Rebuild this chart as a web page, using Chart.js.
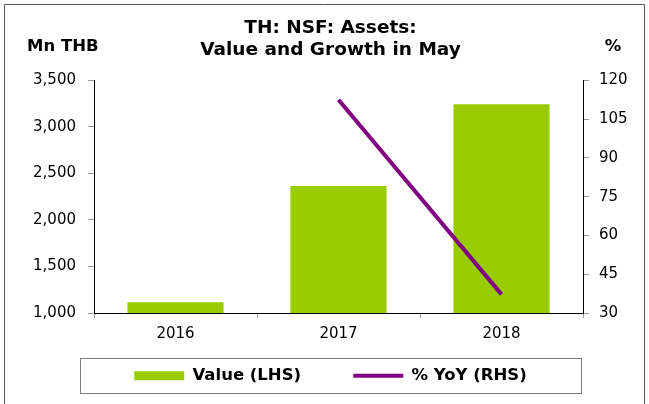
<!DOCTYPE html>
<html>
<head>
<meta charset="utf-8">
<script src="https://cdn.jsdelivr.net/npm/chart.js@4.4.0/dist/chart.umd.min.js"></script>
<style>
  html, body { margin: 0; padding: 0; background: #fff; }
  #wrap { width: 649px; height: 404px; position: relative; }
</style>
</head>
<body>
<div id="wrap"><canvas id="navChart" width="649" height="404"></canvas></div>
<script>
const years = ['2016', '2017', '2018'];
const assetValue = [1115, 2365, 3245];
const yoyGrowth = [null, 112.5, 37.2];
const leftTicks = [1000, 1500, 2000, 2500, 3000, 3500];
const rightTicks = [30, 45, 60, 75, 90, 105, 120];

const FONT = "'DejaVu Sans', sans-serif";
const PAD_L = 16, PAD_R = 4, PAD_B = 10;

// frame, axis unit labels and legend box
const extras = {
    id: 'extras',
    beforeDraw(chart) {
        const ctx = chart.ctx;
        ctx.save();
        ctx.fillStyle = '#fff';
        ctx.fillRect(0, 0, chart.width, chart.height);
        ctx.strokeStyle = '#555';
        ctx.lineWidth = 1;
        ctx.beginPath();
        ctx.moveTo(4.5, 404);
        ctx.lineTo(4.5, 4.5);
        ctx.lineTo(644.5, 4.5);
        ctx.lineTo(644.5, 404);
        ctx.stroke();
        ctx.restore();
    },
    afterDraw(chart) {
        const ctx = chart.ctx;
        ctx.save();
        ctx.font = 'bold 16.5px ' + FONT;
        ctx.fillStyle = '#000';
        ctx.textBaseline = 'middle';
        ctx.textAlign = 'left';
        ctx.fillText('Mn THB', 27, 47);
        ctx.textAlign = 'center';
        ctx.fillText('%', 613, 47);
        // legend frame
        ctx.strokeStyle = '#7f7f7f';
        ctx.lineWidth = 1;
        ctx.strokeRect(80.5, 358.5, 501, 35);
        ctx.restore();
    }
};

const ctx = document.getElementById('navChart').getContext('2d');
new Chart(ctx, {
    data: {
        labels: years,
        datasets: [
            {
                type: 'line',
                label: '% YoY (RHS)',
                data: yoyGrowth,
                yAxisID: 'y1',
                borderColor: '#800080',
                backgroundColor: '#800080',
                borderWidth: 4,
                pointRadius: 0,
                pointStyle: 'line',
                order: 0
            },
            {
                type: 'bar',
                // trailing spaces widen the gap before the next legend item
                label: 'Value (LHS)       ',
                data: assetValue,
                yAxisID: 'y',
                backgroundColor: '#99cc00',
                borderWidth: 0,
                pointStyle: 'rect',
                categoryPercentage: 1,
                barPercentage: 0.59,
                order: 1
            }
        ]
    },
    options: {
        responsive: false,
        animation: false,
        layout: { padding: { top: 8, left: PAD_L, right: PAD_R, bottom: PAD_B } },
        plugins: {
            title: {
                display: true,
                text: ['TH: NSF: Assets:', 'Value and Growth in May'],
                font: { family: FONT, size: 18.5, weight: 'bold' },
                color: '#000',
                padding: { top: 9, bottom: 19 },
                lineHeight: 1.0
            },
            legend: {
                position: 'bottom',
                reverse: true,
                labels: {
                    usePointStyle: true,
                    pointStyleWidth: 50,
                    boxWidth: 50,
                    boxHeight: 9,
                    padding: 12,
                    color: '#000',
                    font: { family: FONT, size: 16.5, weight: 'bold' }
                }
            },
            tooltip: { enabled: false }
        },
        scales: {
            x: {
                grid: { display: true, drawOnChartArea: false, tickLength: 5, color: '#999', offset: true },
                border: { display: true, color: '#000' },
                ticks: { color: '#000', font: { family: FONT, size: 15 }, padding: 7 },
                afterFit: (axis) => {
                    const lg = axis.chart.legend;
                    axis.height = Math.max(30, 404 - PAD_B - (lg ? lg.height : 0) - 313);
                }
            },
            y: {
                position: 'left',
                min: 1000,
                max: 3500,
                afterBuildTicks: (axis) => { axis.ticks = leftTicks.map(v => ({ value: v })); },
                afterFit: (axis) => { axis.width = 94 - PAD_L; },
                grid: { display: true, drawOnChartArea: false, tickLength: 6, color: '#999' },
                border: { display: true, color: '#000' },
                ticks: {
                    color: '#000',
                    font: { family: FONT, size: 15 },
                    padding: 12,
                    callback: (v) => v.toLocaleString('en-US')
                }
            },
            y1: {
                position: 'right',
                min: 30,
                max: 120,
                afterBuildTicks: (axis) => { axis.ticks = rightTicks.map(v => ({ value: v })); },
                afterFit: (axis) => { axis.width = 649 - 583 - PAD_R; },
                grid: { display: true, drawOnChartArea: false, tickLength: 6, color: '#999' },
                border: { display: true, color: '#000' },
                ticks: { color: '#000', font: { family: FONT, size: 15 }, padding: 10 }
            }
        }
    },
    plugins: [extras]
});
</script>
</body>
</html>
